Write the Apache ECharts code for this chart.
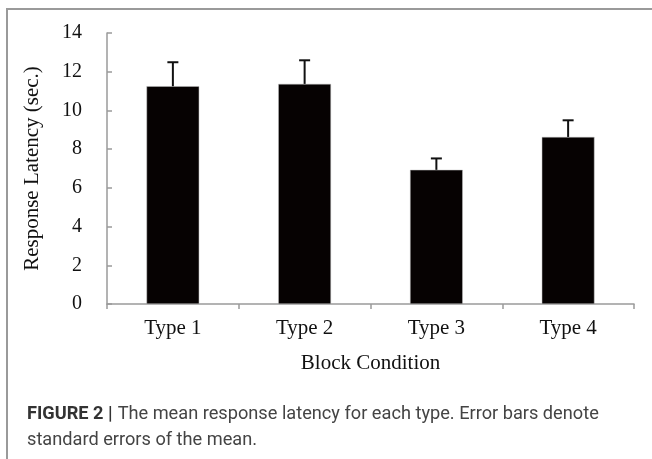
<!DOCTYPE html>
<html>
<head>
<meta charset="utf-8">
<script src="https://cdn.jsdelivr.net/npm/echarts@6/dist/echarts.min.js"></script>
<style>
  html, body { margin: 0; padding: 0; background: #fff; }
  .frame {
    position: absolute;
    left: 6px;
    top: 8px;
    width: 646px;
    height: 451px;
    border-left: 2px solid #9a9a9a;
    border-top: 2px solid #9a9a9a;
  }
  #chart { position: absolute; left: 0; top: 0; width: 652px; height: 459px; }
</style>
</head>
<body>
<div class="frame"></div>
<div id="chart"></div>
<script>
// values
const categories = ["Type 1", "Type 2", "Type 3", "Type 4"];
const meanLatency = [11.25, 11.37, 6.93, 8.63];
const stdError = [1.24, 1.22, 0.59, 0.86];

const serif = "'Liberation Serif', 'Times New Roman', serif";

const chart = echarts.init(document.getElementById("chart"));

const errorData = meanLatency.map((m, i) => [i, m, m + stdError[i]]);

const option = {
  animation: false,
  title: {
    left: 22,
    top: 396,
    text: "{b|FIGURE 2 |} {n|The mean response latency for each type. Error bars denote}\n{n|standard errors of the mean.}",
    textStyle: {
      fontWeight: "normal",
      rich: {
        b: { fontFamily: "Roboto", fontWeight: "bold", fontSize: 18.2, color: "#333", lineHeight: 26 },
        n: { fontFamily: "Roboto", fontWeight: "normal", fontSize: 18.2, color: "#444", lineHeight: 26 },
      },
    },
  },
  grid: {
    left: 107,
    right: 18,
    top: 33,
    bottom: 155,
  },
  xAxis: {
    type: "category",
    data: categories,
    name: "Block Condition",
    nameLocation: "middle",
    nameGap: 49,
    nameTextStyle: { fontFamily: serif, fontSize: 21, color: "#111" },
    axisLine: { lineStyle: { color: "#9a9a9a", width: 1.5 } },
    axisTick: { show: true, length: 5, lineStyle: { color: "#9a9a9a", width: 1.5 } },
    axisLabel: { fontFamily: serif, fontSize: 21, color: "#111", margin: 14 },
  },
  yAxis: {
    type: "value",
    min: 0,
    max: 14,
    interval: 2,
    name: "Response Latency (sec.)",
    nameLocation: "middle",
    nameGap: 64,
    nameTextStyle: { fontFamily: serif, fontSize: 21, color: "#111" },
    axisLine: { show: true, lineStyle: { color: "#9a9a9a", width: 1.5 } },
    axisTick: { show: true, inside: true, length: 5, lineStyle: { color: "#9a9a9a", width: 1.5 } },
    axisLabel: { fontFamily: serif, fontSize: 20, color: "#111", margin: 25 },
    splitLine: { show: false },
  },
  series: [
    {
      type: "bar",
      data: meanLatency,
      barWidth: "40%",
      itemStyle: { color: "#060202", borderColor: "#bbb", borderWidth: 0.5 },
    },
    {
      type: "custom",
      data: errorData,
      z: 3,
      renderItem: function (params, api) {
        const base = api.coord([api.value(0), api.value(1)]);
        const top = api.coord([api.value(0), api.value(2)]);
        const half = 5.5;
        const style = { stroke: "#111", lineWidth: 2 };
        return {
          type: "group",
          children: [
            { type: "line", shape: { x1: base[0], y1: base[1], x2: top[0], y2: top[1] }, style: style },
            { type: "line", shape: { x1: top[0] - half, y1: top[1], x2: top[0] + half, y2: top[1] }, style: style },
          ],
        };
      },
    },
  ],
};

chart.setOption(option);
</script>
</body>
</html>
